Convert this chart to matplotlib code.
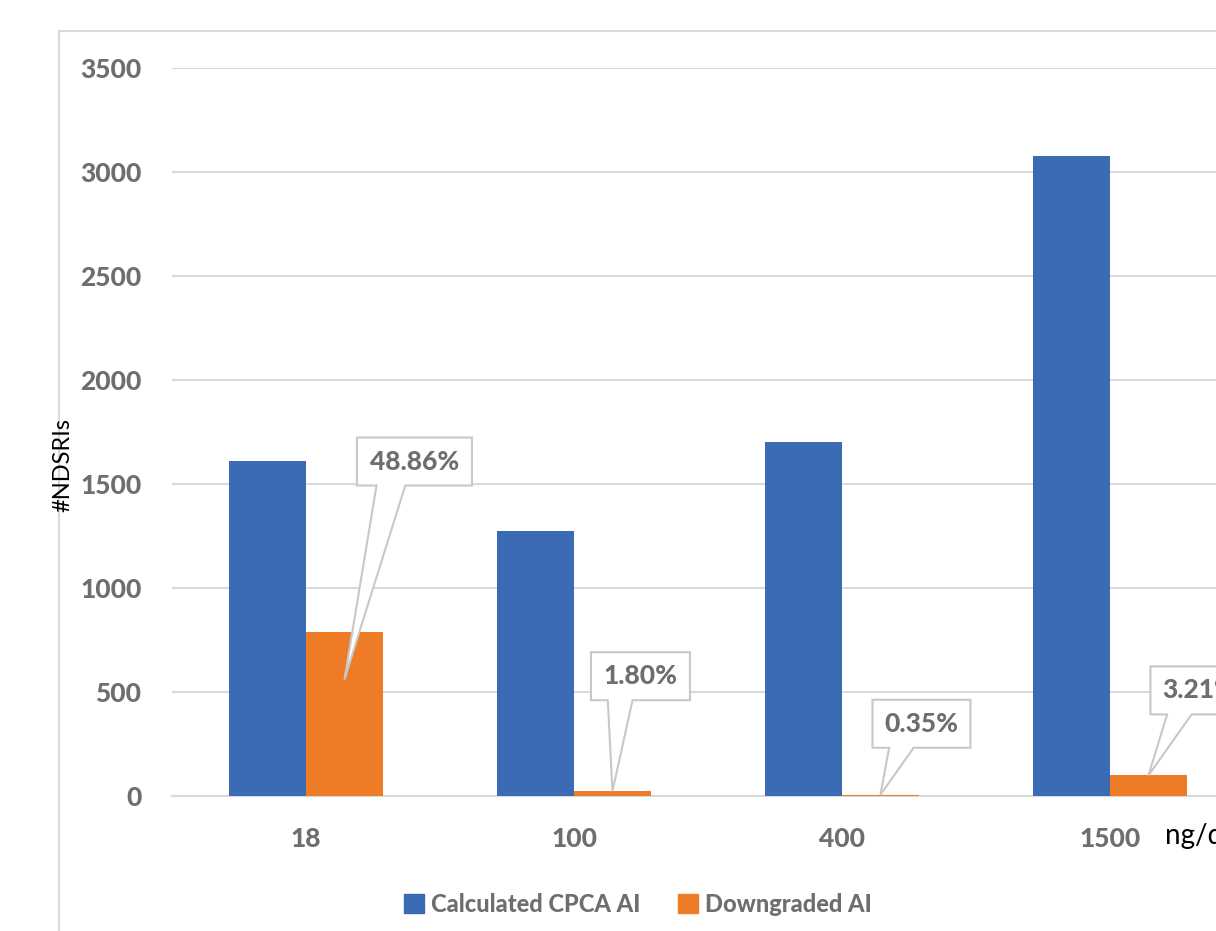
import numpy as np
import matplotlib
matplotlib.use('Agg')
import matplotlib.pyplot as plt
from matplotlib.patches import Polygon, Rectangle, Patch

# dose limits (ng/day) and counts per category
doses = ['18', '100', '400', '1500']
calculated = [1611, 1274, 1702, 3077]
downgraded = [787, 23, 6, 99]
pct_labels = ['48.86%', '1.80%', '0.35%', '3.21%']

BLUE = '#3A6BB4'
ORANGE = '#EE7B25'
GRID = '#D9D9D9'
TXT = '#6E6E6E'
HEAVY = 900

plt.rcParams['font.family'] = ['Lato', 'DejaVu Sans']

fig = plt.figure(figsize=(12.16, 9.31), dpi=100)
W, H = 1216, 931

# outer chart frame (runs past the right/bottom edges)
fig.patches.append(Rectangle((59 / W, -0.1), 2.0, 1 - 31 / H + 0.1,
                             transform=fig.transFigure, fill=False,
                             edgecolor=GRID, linewidth=1.5))

ax = fig.add_axes([172 / W, (H - 796) / H, 1072 / W, 728 / H])
x = np.arange(len(doses))
w = 0.287
ax.bar(x - w / 2, calculated, w, color=BLUE, zorder=3, label='Calculated CPCA AI')
ax.bar(x + w / 2, downgraded, w, color=ORANGE, zorder=3, label='Downgraded AI')

ax.set_xlim(-0.5, 3.5)
ax.set_ylim(0, 3500)
ax.set_yticks(range(0, 3501, 500))
ax.set_xticks(x)
ax.set_xticklabels(doses)
ax.yaxis.grid(True, color=GRID, linewidth=1.5, zorder=0)
ax.set_axisbelow(True)
for s in ['top', 'right', 'left']:
    ax.spines[s].set_visible(False)
ax.spines['bottom'].set_color(GRID)
ax.spines['bottom'].set_linewidth(1.5)
ax.tick_params(length=0, labelsize=19, labelcolor=TXT)
ax.tick_params(axis='y', pad=22)
ax.tick_params(axis='x', pad=22)
for lab in ax.get_xticklabels() + ax.get_yticklabels():
    lab.set_fontweight(HEAVY)

fig.text(63 / W, 1 - 465 / H, '#NDSRIs', rotation=90, fontsize=17,
         color='black', ha='center', va='center')
fig.text(1165 / W, 1 - 836 / H, 'ng/day', fontsize=20, color='black',
         ha='left', va='center')

# callout boxes: offset of box centre from the tip (px) and box width (px)
offsets = [(70, 218), (28, 115), (41, 71), (51, 85)]
widths = [115, 99, 98, 98]
box_h = 48
inv = ax.transData.inverted()
for i, (v, lab) in enumerate(zip(downgraded, pct_labels)):
    tip_y = min(v, 560)
    tx, ty = ax.transData.transform((x[i] + w / 2, tip_y))
    cx, cy = tx + offsets[i][0], ty + offsets[i][1]
    bw = widths[i]
    l, r = cx - bw / 2, cx + bw / 2
    b, t = cy - box_h / 2, cy + box_h / 2
    pts = [(l, t), (r, t), (r, b), (l + 0.42 * bw, b), (tx, ty),
           (l + 0.17 * bw, b), (l, b)]
    poly = Polygon(inv.transform(pts), closed=True, facecolor='white',
                   edgecolor='#C8C8C8', linewidth=1.5, zorder=5, clip_on=False)
    ax.add_patch(poly)
    ax.text(*inv.transform((cx, cy)), lab, ha='center', va='center',
            fontsize=19, fontweight=HEAVY, color=TXT, zorder=6, clip_on=False)

handles = [Patch(color=BLUE), Patch(color=ORANGE)]
leg = fig.legend(handles, ['Calculated CPCA AI', 'Downgraded AI'], ncol=2,
                 loc='center', bbox_to_anchor=(638 / W, 1 - 904 / H),
                 frameon=False, handlelength=0.85, handleheight=0.85,
                 handletextpad=0.3, columnspacing=1.6,
                 prop={'size': 17, 'weight': HEAVY})
for t in leg.get_texts():
    t.set_color(TXT)

fig.savefig('out.png', dpi=100)
